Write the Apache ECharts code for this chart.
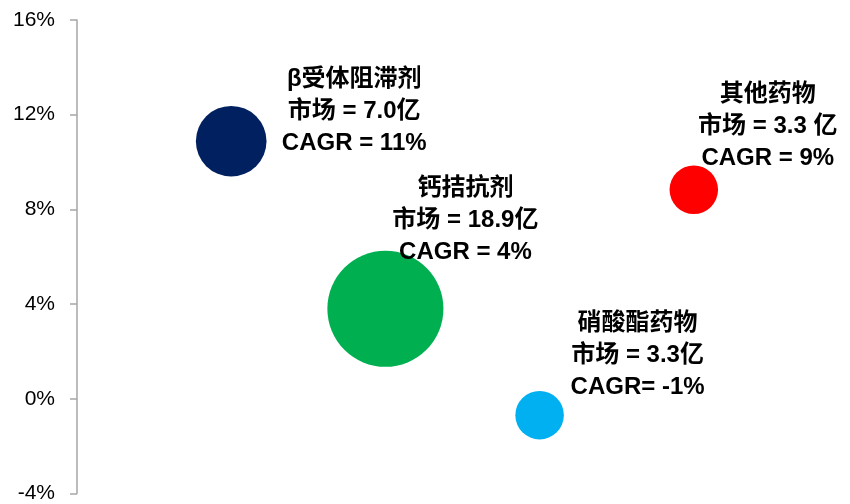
<!DOCTYPE html>
<html>
<head>
<meta charset="utf-8">
<style>
  html, body { margin: 0; padding: 0; background: #fff; }
  #chart { width: 850px; height: 504px; }
</style>
<script src="https://cdn.jsdelivr.net/npm/echarts@6/dist/echarts.min.js"></script>
</head>
<body>
<div id="chart"></div>
<script>
// Drug classes, horizontal slot, market size (亿) and CAGR (%)
const names = ['β受体阻滞剂', '钙拮抗剂', '硝酸酯药物', '其他药物'];
const xSlots = [1, 2, 3, 4];
const marketSize = [7.0, 18.9, 3.3, 3.3];
const cagr = [10.88, 3.80, -0.69, 8.83];
const colors = ['#002060', '#00B050', '#00B0F0', '#FF0000'];
const yTicks = [-4, 0, 4, 8, 12, 16];

// Per-bubble label layout: offset from bubble centre, spacing quirks of each label
const labelOffsets = [[123, -30], [80, -88], [98, -60], [74, -63]];
const sizeSep = ['', '', '', ' '];
const cagrSep = [' ', ' ', '', ' '];

const latin = '"Liberation Sans", Arial, "Noto Sans CJK SC", sans-serif';

const data = names.map((n, i) => ({
  value: [xSlots[i], cagr[i], marketSize[i]],
  itemStyle: { color: colors[i], opacity: 1 },
  label: {
    offset: labelOffsets[i],
    formatter: () => n + '\n市场 = ' + marketSize[i].toFixed(1) + sizeSep[i] + '亿\nCAGR' + cagrSep[i] + '= ' + Math.round(cagr[i]) + '%'
  }
}));

const chart = echarts.init(document.getElementById('chart'));
chart.setOption({
  animation: false,
  grid: { left: 77, right: 2, top: 20, bottom: 10 },
  xAxis: {
    type: 'value', min: 0, max: 5,
    show: false
  },
  yAxis: {
    type: 'value', min: yTicks[0], max: yTicks[yTicks.length - 1], interval: 4,
    axisLine: { show: true, lineStyle: { color: '#a6a6a6', width: 1.5 } },
    axisTick: { show: true, length: 7, lineStyle: { color: '#a6a6a6', width: 1.5 } },
    splitLine: { show: false },
    axisLabel: {
      margin: 22,
      color: '#000',
      fontSize: 21,
      fontFamily: latin,
      formatter: v => v + '%'
    }
  },
  series: [{
    type: 'scatter',
    data: data,
    symbolSize: v => 26.7 * Math.sqrt(v[2]),
    itemStyle: { opacity: 1 },
    emphasis: { disabled: true },
    label: {
      show: true,
      position: 'inside',
      align: 'center',
      verticalAlign: 'middle',
      color: '#000',
      textBorderWidth: 0,
      fontSize: 24,
      fontWeight: 'bold',
      lineHeight: 32,
      fontFamily: latin
    }
  }]
});
</script>
</body>
</html>
